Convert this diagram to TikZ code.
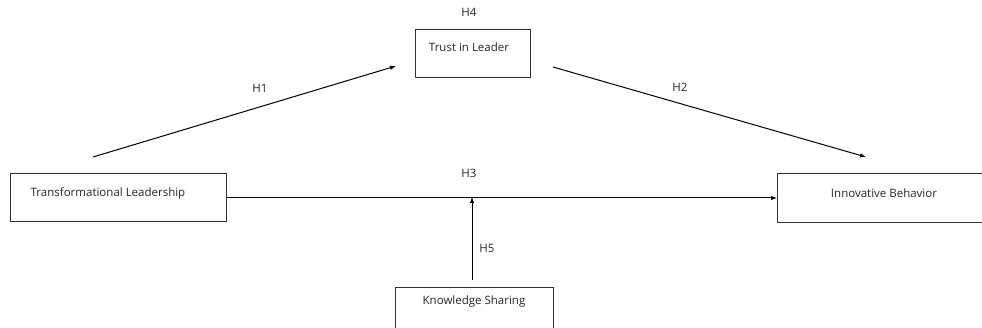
\documentclass[tikz,border=0pt]{standalone}
\usepackage{fontspec}
\setmainfont{Open Sans}
\usetikzlibrary{arrows.meta}
\begin{document}
\begin{tikzpicture}[x=1pt,y=-1pt,
  box/.style={draw=black!80,line width=1pt,rectangle,inner sep=0pt},
  txt/.style={font=\fontsize{11.5}{13}\selectfont,text=black!85,inner sep=0pt},
  arr/.style={line width=1pt,-{Latex[length=6pt,width=4.5pt]}}]
\useasboundingbox (0,0) rectangle (982,328);
\fill[white] (0,0) rectangle (982,328);
\clip (0,0) rectangle (982,328);
% boxes
\node[box,minimum width=216pt,minimum height=48pt,anchor=north west] (tl) at (10,173) {};
\node[box,minimum width=115pt,minimum height=48pt,anchor=north west] (tr) at (415,29) {};
\node[box,minimum width=215pt,minimum height=49pt,anchor=north west] (ib) at (777,173) {};
\node[box,minimum width=158pt,minimum height=50pt,anchor=north west] (ks) at (395,287) {};
% texts
\node[txt] (tlt) at (108,193) {Transformational Leadership};
\node[txt] (trt) at (469,47) {Trust in Leader};
\node[txt] (ibt) at (884,193) {Innovative Behavior};
\node[txt] (kst) at (474,302) {Knowledge Sharing};
\node[txt] (h4) at (469,12) {H4};
\node[txt] (h1) at (260,88) {H1};
\node[txt] (h2) at (680,87) {H2};
\node[txt] (h3) at (469,173) {H3};
\node[txt] (h5) at (487,248) {H5};
% connectors
\coordinate (a1) at (93,157);
\coordinate (b1) at (396,66);
\coordinate (a2) at (553,67);
\coordinate (b2) at (866,157);
\coordinate (m) at (472,198);
\coordinate (k) at (472,280);
\draw[arr] (a1) -- (b1);
\draw[arr] (a2) -- (b2);
\draw[arr] (tl.east |- m) -- (ib.west |- m);
\draw[arr] (k) -- ([yshift=1pt]m);
\end{tikzpicture}
\end{document}
